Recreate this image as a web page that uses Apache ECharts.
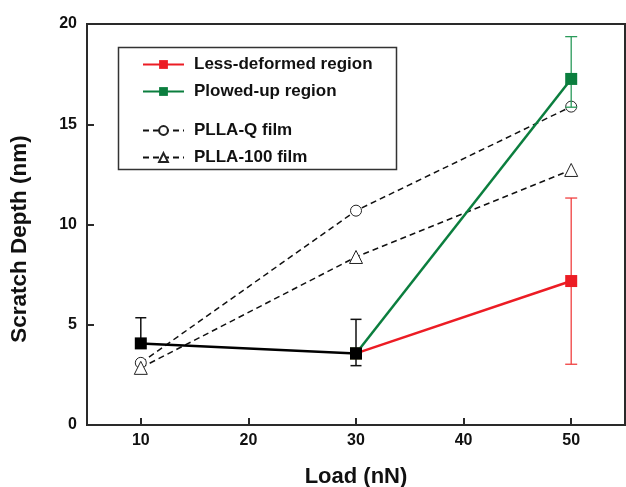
<!DOCTYPE html>
<html><head><meta charset="utf-8">
<script src="https://cdn.jsdelivr.net/npm/echarts@6/dist/echarts.min.js"></script>
<style>html,body{margin:0;padding:0;background:#fff}#c{width:626px;height:487px}</style>
</head><body><div id="c"></div>
<script>
// ---- data ----
const xTicks = [10, 20, 30, 40, 50];
const yTicks = [0, 5, 10, 15, 20];
const loads = [10, 30, 50];
const commonDepth = [[10, 4.07], [30, 3.57]];          // black (shared) points
const commonErr = [[10, 4.07, null, 5.35], [30, 3.57, 2.96, 5.27]]; // x, centre, low, high
const lessDeformed = [[30, 3.57], [50, 7.18]];
const lessDeformedErr = [[50, 7.18, 3.03, 11.32]];
const plowedUp = [[30, 3.57], [50, 17.26]];
const plowedUpErr = [[50, 17.26, 15.85, 19.37]];
const pllaQ = [3.10, 10.69, 15.88];
const plla100 = [2.85, 8.38, 12.72];

const FONT = 'Liberation Sans, Arial, sans-serif';

function errRender(color, width, cap) {
  return function (params, api) {
    const x = api.value(0), c = api.value(1), lo = api.value(2), hi = api.value(3);
    const pc = api.coord([x, c]);
    const pHi = api.coord([x, hi]);
    const hasLo = !(lo === null || lo === undefined || isNaN(lo));
    const pLo = hasLo ? api.coord([x, lo]) : pc;
    const st = { stroke: color, lineWidth: width };
    const ch = [
      { type: 'line', shape: { x1: pc[0], y1: pLo[1], x2: pc[0], y2: pHi[1] }, style: st },
      { type: 'line', shape: { x1: pc[0] - cap / 2, y1: pHi[1], x2: pc[0] + cap / 2, y2: pHi[1] }, style: st }
    ];
    if (hasLo) ch.push({ type: 'line', shape: { x1: pc[0] - cap / 2, y1: pLo[1], x2: pc[0] + cap / 2, y2: pLo[1] }, style: st });
    return { type: 'group', children: ch };
  };
}

const RED = '#ec1c24', GREEN = '#0b7e3e';
const chart = echarts.init(document.getElementById('c'));
chart.setOption({
  animation: false,
  grid: { left: 87, right: 1, top: 24, bottom: 62, show: true, borderColor: '#2a2a2a', borderWidth: 2, outerBoundsMode: 'none', containLabel: false },
  xAxis: {
    type: 'value', min: 5, max: 55,
    name: 'Load (nN)', nameLocation: 'middle', nameGap: 41,
    nameTextStyle: { fontFamily: FONT, fontWeight: 'bold', fontSize: 22, color: '#111' },
    axisLine: { lineStyle: { color: '#2a2a2a', width: 2 } },
    axisTick: { inside: true, length: 7, customValues: xTicks, lineStyle: { color: '#2a2a2a', width: 2 } },
    axisLabel: { customValues: xTicks, margin: 8, fontFamily: FONT, fontWeight: 'bold', fontSize: 16, color: '#111' },
    splitLine: { show: false }
  },
  yAxis: {
    type: 'value', min: 0, max: 20, interval: 5,
    axisLine: { show: true, lineStyle: { color: '#2a2a2a', width: 2 } },
    axisTick: { inside: true, length: 7, customValues: yTicks, lineStyle: { color: '#2a2a2a', width: 2 } },
    axisLabel: { customValues: yTicks, margin: 10, fontFamily: FONT, fontWeight: 'bold', fontSize: 16, color: '#111' },
    splitLine: { show: false }
  },
  legend: [
    {
      data: ['Less-deformed region', 'Plowed-up region'],
      orient: 'vertical', left: 142, top: 56, padding: 0, itemGap: 10,
      itemWidth: 41, itemHeight: 11,
      textStyle: { fontFamily: FONT, fontWeight: 'bold', fontSize: 17, color: '#111', padding: [0, 0, 0, 5] }
    },
    {
      data: ['PLLA-Q film', 'PLLA-100 film'],
      orient: 'vertical', left: 142, top: 122, padding: 0, itemGap: 10,
      itemWidth: 41, itemHeight: 11,
      textStyle: { fontFamily: FONT, fontWeight: 'bold', fontSize: 17, color: '#111', padding: [0, 0, 0, 5] }
    }
  ],
  graphic: [
    {
      type: 'rect', left: 116, top: 45, shape: { width: 278, height: 122 },
      style: { fill: 'none', stroke: '#333', lineWidth: 1.5 }, z: 10
    },
    {
      type: 'text', x: 20, y: 239, rotation: Math.PI / 2,
      style: { text: 'Scratch Depth (nm)', fontFamily: FONT, fontWeight: 'bold', fontSize: 22.5, fill: '#111', align: 'center', verticalAlign: 'middle' }
    }
  ],
  series: [
    {
      name: 'PLLA-Q film', type: 'line', data: loads.map((x, i) => [x, pllaQ[i]]),
      symbol: 'circle', symbolSize: 11, z: 2,
      lineStyle: { color: '#111', width: 1.5, type: [6, 4] },
      itemStyle: { color: '#fff', borderColor: '#222', borderWidth: 1 }
    },
    {
      name: 'PLLA-100 film', type: 'line', data: loads.map((x, i) => [x, plla100[i]]),
      symbol: 'triangle', symbolSize: 13, z: 2,
      lineStyle: { color: '#111', width: 1.5, type: [6, 4] },
      itemStyle: { color: '#fff', borderColor: '#222', borderWidth: 1 }
    },
    {
      type: 'custom', renderItem: errRender('#f04040', 1.3, 12), data: lessDeformedErr, z: 3, silent: true
    },
    {
      type: 'custom', renderItem: errRender('#2a9a5a', 1.3, 12), data: plowedUpErr, z: 3, silent: true
    },
    {
      name: 'Less-deformed region', type: 'line', data: lessDeformed,
      symbol: 'rect', symbolSize: 12, z: 4,
      lineStyle: { color: RED, width: 2.5 }, itemStyle: { color: RED }
    },
    {
      name: 'Plowed-up region', type: 'line', data: plowedUp,
      symbol: 'rect', symbolSize: 12, z: 4,
      lineStyle: { color: GREEN, width: 2.5 }, itemStyle: { color: GREEN }
    },
    {
      type: 'custom', renderItem: errRender('#111', 1.5, 11), data: commonErr, z: 5, silent: true
    },
    {
      name: 'common', type: 'line', data: commonDepth,
      symbol: 'rect', symbolSize: 12, z: 6,
      lineStyle: { color: '#000', width: 2.5 }, itemStyle: { color: '#000' }
    }
  ]
});
</script></body></html>
